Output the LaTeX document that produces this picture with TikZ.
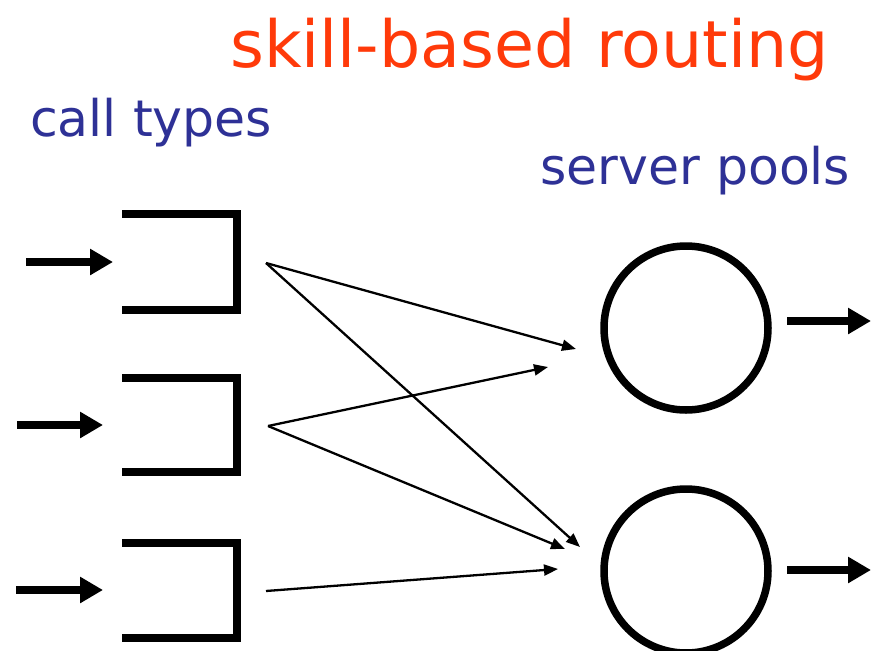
\documentclass[tikz,border=0pt]{standalone}
\usepackage{fontspec}
\setmainfont{DejaVu Sans}
\usetikzlibrary{arrows.meta}
\definecolor{titleorange}{RGB}{255,58,10}
\definecolor{labelblue}{RGB}{46,49,150}
\begin{document}
\begin{tikzpicture}[x=1pt,y=-1pt,
  queuebox/.style={line width=7.5pt, line join=miter},
  thickarrow/.style={line width=8.5pt, -{Triangle[length=23pt,width=25pt]}},
  thinarrow/.style={line width=2.3pt, -{Triangle[length=14pt,width=11pt]}},
  pool/.style={circle, draw, line width=7.5pt, minimum size=164pt, inner sep=0pt},
  titletext/.style={anchor=base west, inner sep=0pt, text=titleorange, font=\fontsize{65}{70}\selectfont},
  labeltext/.style={anchor=base west, inner sep=0pt, text=labelblue, font=\fontsize{50.5}{56}\selectfont}]
\useasboundingbox (0,0) rectangle (871,651);
\fill[white] (0,0) rectangle (871,651);

\node[titletext] (title) at (230,67) {skill-based routing};
\node[labeltext] (calltypes) at (30,136) {call types};
\node[labeltext] (serverpools) at (540,184) {server pools};

% queues
\draw[queuebox] (122,214) -- (237,214) -- (237,310) -- (122,310);
\draw[queuebox] (122,378) -- (237,378) -- (237,472) -- (122,472);
\draw[queuebox] (122,543) -- (237,543) -- (237,638) -- (122,638);

% input arrows
\coordinate (in1) at (26,262);  \coordinate (q1) at (113,262);
\coordinate (in2) at (17,425);  \coordinate (q2) at (103,425);
\coordinate (in3) at (16,590);  \coordinate (q3) at (103,590);
\draw[thickarrow] (in1) -- (q1);
\draw[thickarrow] (in2) -- (q2);
\draw[thickarrow] (in3) -- (q3);

% server pools
\node[pool] (p1) at (686,328) {};
\node[pool] (p2) at (686,571) {};

% output arrows
\coordinate (o1) at (871,321);
\coordinate (o2) at (871,570);
\coordinate (s1) at (787,321);
\coordinate (s2) at (787,570);
\draw[thickarrow] (s1) -- (o1);
\draw[thickarrow] (s2) -- (o2);

% routing arrows
\coordinate (a1) at (266,263);
\coordinate (a2) at (268,426);
\coordinate (a3) at (266,591);
\coordinate (t11) at (576,349);
\coordinate (t12) at (580,547);
\coordinate (t21) at (548,367);
\coordinate (t22) at (565,549);
\coordinate (t32) at (558,569);
\draw[thinarrow] (a1) -- (t11);
\draw[thinarrow] (a1) -- (t12);
\draw[thinarrow] (a2) -- (t21);
\draw[thinarrow] (a2) -- (t22);
\draw[thinarrow] (a3) -- (t32);
\end{tikzpicture}
\end{document}
